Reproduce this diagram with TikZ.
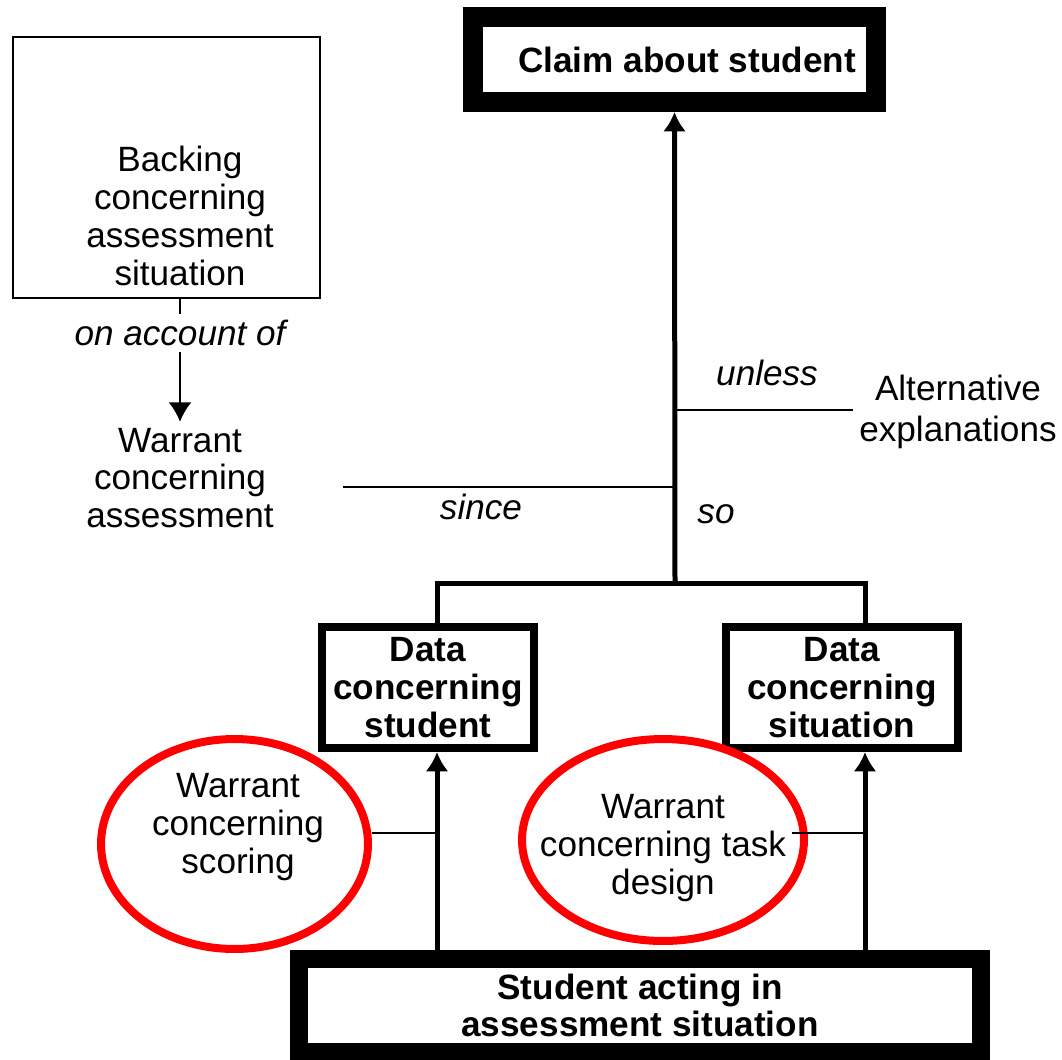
\documentclass[tikz,border=0pt]{standalone}
\usepackage{fontspec}
\setmainfont{Liberation Sans}
\usetikzlibrary{shapes.geometric,arrows.meta}

\begin{document}
\begin{tikzpicture}[x=0.02cm,y=-0.02cm,
    >={Latex[length=11pt,width=13pt]},
    every node/.style={font=\fontsize{20}{21.5}\selectfont, align=center},
    heavy/.style={draw, line width=#1, inner sep=0pt,
                  font=\fontsize{20}{21.5}\selectfont\bfseries},
    ring/.style={draw=red, line width=0.16cm, ellipse, inner sep=0pt},
    conn/.style={line width=0.1cm},
    thinline/.style={line width=0.04cm},
    lbl/.style={font=\fontsize{20}{21.5}\selectfont\itshape}]
    \useasboundingbox (0,0) rectangle (1062,1059);

    % boxes
    \node[heavy=0.4cm, minimum width=8.06cm, minimum height=1.7cm] (claim) at (674.5,59.5)
        {\hspace*{0.5cm}Claim about student};
    \node[heavy=0.16cm, minimum width=4.24cm, minimum height=2.42cm] (dstud) at (428,687.5)
        {Data\\concerning\\student};
    \node[heavy=0.16cm, minimum width=4.64cm, minimum height=2.42cm] (dsit) at (842,687.5)
        {Data\\concerning\\situation};
    \node[heavy=0.36cm, minimum width=13.64cm, minimum height=1.86cm] (act) at (640,1005.5)
        {Student acting in\\assessment situation};

    \node[draw, line width=0.04cm, minimum width=6.14cm, minimum height=5.22cm] (backing) at (166.5,167.5) {};
    \node (backtext) at (180,216) {Backing\\concerning\\assessment\\situation};
    \node[lbl] (account) at (180,333) {on account of};
    \node (warrant) at (180,478) {Warrant\\concerning\\assessment};

    \node[font=\fontsize{20}{23}\selectfont] (alt) at (958,412) {Alternative\\explanations};
    \node[lbl] (unless) at (767,373) {unless};
    \node[lbl] (since) at (481,507) {since};
    \node[lbl] (so) at (716,514) {so};

    % red rings
    \node[ring, minimum width=5.34cm, minimum height=4.2cm] (ringscore) at (234.5,844) {};
    \node (scoring) at (238,827) {Warrant\\concerning\\scoring};
    \node[ring, minimum width=5.64cm, minimum height=4.04cm] (ringtask) at (663,840) {};
    \node (task) at (663,848) {Warrant\\concerning task\\design};

    \coordinate (top) at (675,583);
    \coordinate (jL) at (437,583);
    \coordinate (jR) at (865,583);
    \coordinate (sinceL) at (343,487);
    \coordinate (sinceR) at (675,487);
    \coordinate (unlessL) at (677,410);
    \coordinate (wL) at (437,833);
    \coordinate (wR) at (865,833);

    % arrows
    \draw[conn,->] (top) -- (claim.south);
    \draw[conn] (jL |- dstud.north) -- (jL) -- (jR) -- (jR |- dsit.north);
    \draw[conn,->] (jL |- act.north) -- (jL |- dstud.south);
    \draw[conn,->] (jR |- act.north) -- (jR |- dsit.south);

    \draw[thinline] (backing.south -| account) -- (account.north);
    \draw[thinline,->] (account.south) -- (warrant.north);
    \draw[thinline] (sinceL) -- (sinceR);
    \draw[thinline] (unlessL) -- (unlessL -| alt.west);
    \draw[thinline] (ringscore.east |- wL) -- (wL);
    \draw[thinline] (task.east |- wR) -- (wR);
\end{tikzpicture}
\end{document}
